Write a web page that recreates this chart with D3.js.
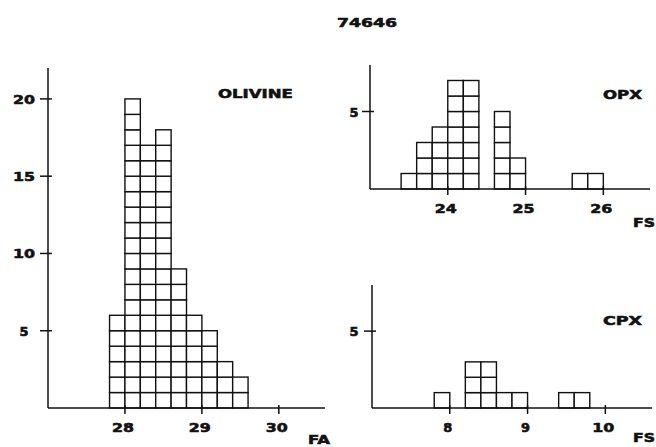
<!DOCTYPE html>
<html><head><meta charset="utf-8">
<script src="https://cdn.jsdelivr.net/npm/d3@7"></script>
<style>body{margin:0;background:#fff}svg{display:block}</style>
</head><body>
<svg id="c" width="656" height="447"></svg>
<script>
const title = "74646";
// Olivine (Fa), bin width 0.2
const olivineBinStarts = [27.8, 28.0, 28.2, 28.4, 28.6, 28.8, 29.0, 29.2, 29.4];
const olivineCounts    = [6, 20, 17, 18, 9, 6, 5, 3, 2];
const olivineXTicks = [28, 29, 30];
const olivineYTicks = [5, 10, 15, 20];
// OPX (Fs)
const opxBinStarts = [23.4, 23.6, 23.8, 24.0, 24.2, 24.6, 24.8, 25.6, 25.8];
const opxCounts    = [1, 3, 4, 7, 7, 5, 2, 1, 1];
const opxXTicks = [24, 25, 26];
const opxYTicks = [5];
// CPX (Fs)
const cpxBinStarts = [7.8, 8.2, 8.4, 8.6, 8.8, 9.4, 9.6];
const cpxCounts    = [1, 3, 3, 1, 1, 1, 1];
const cpxXTicks = [8, 9, 10];
const cpxYTicks = [5];
const binWidth = 0.2;

const svg = d3.select("#c");
const FONT = "DejaVu Sans";
const CHARW = 11;

function label(g, txt, x, y, anchor, cw) {
  const w = (cw || (txt.length === 1 ? 9 : CHARW)) * txt.length;
  g.append("text").attr("x", x).attr("y", y)
    .attr("text-anchor", anchor || "middle")
    .attr("font-family", FONT).attr("font-weight", "bold").attr("font-size", 13)
    .attr("textLength", w).attr("lengthAdjust", "spacingAndGlyphs")
    .attr("fill", "#111").attr("stroke", "#111").attr("stroke-width", 0.6)
    .text(txt);
}

function panel(cfg) {
  const g = svg.append("g");
  const x = d3.scaleLinear().domain(cfg.xDomain).range(cfg.xRange);
  const y = d3.scaleLinear().domain(cfg.yDomain).range(cfg.yRange);
  const boxes = [];
  cfg.starts.forEach((s, i) => {
    for (let k = 0; k < cfg.counts[i]; k++) boxes.push({s, k});
  });
  g.selectAll("rect.box").data(boxes).join("rect").attr("class", "box")
    .attr("x", d => x(d.s)).attr("width", d => x(d.s + binWidth) - x(d.s))
    .attr("y", d => y(d.k + 1)).attr("height", d => y(d.k) - y(d.k + 1))
    .attr("fill", "#fff").attr("stroke", "#111").attr("stroke-width", 1.4);
  const x0 = cfg.xRange[0], y0 = cfg.yRange[0];
  g.append("line").attr("x1", x0).attr("x2", cfg.xRange[1]).attr("y1", y0).attr("y2", y0)
    .attr("stroke", "#111").attr("stroke-width", 1.5);
  g.append("line").attr("x1", x0).attr("x2", x0).attr("y1", y0).attr("y2", cfg.yRange[1])
    .attr("stroke", "#111").attr("stroke-width", 1.5);
  cfg.xTicks.forEach(t => {
    g.append("line").attr("x1", x(t)).attr("x2", x(t)).attr("y1", y0 - 3).attr("y2", y0 + 6)
      .attr("stroke", "#111").attr("stroke-width", 1.5);
    label(g, String(t), x(t) - 2, y0 + 24, "middle");
  });
  cfg.yTicks.forEach(t => {
    g.append("line").attr("x1", x0 - 8).attr("x2", x0 + 4).attr("y1", y(t)).attr("y2", y(t))
      .attr("stroke", "#111").attr("stroke-width", 1.5);
    label(g, String(t), x0 - cfg.yLabelOffset, y(t) + 5, "middle");
  });
  label(g, cfg.axisName, cfg.axisNamePos[0], cfg.axisNamePos[1], "start", 11);
  label(g, cfg.name, cfg.namePos[0], cfg.namePos[1], "start", cfg.nameCW);
}

label(svg, title, 367, 27, "middle", 12);

panel({
  starts: olivineBinStarts, counts: olivineCounts,
  xDomain: [27, 30.6], xRange: [48, 325],
  yDomain: [0, 22], yRange: [408, 68],
  xTicks: olivineXTicks, yTicks: olivineYTicks, yLabelOffset: 24,
  axisName: "FA", axisNamePos: [308, 444],
  name: "OLIVINE", namePos: [218, 98], nameCW: 10.7
});
panel({
  starts: opxBinStarts, counts: opxCounts,
  xDomain: [23, 26.6], xRange: [370, 650],
  yDomain: [0, 8], yRange: [189, 65],
  xTicks: opxXTicks, yTicks: opxYTicks, yLabelOffset: 16,
  axisName: "FS", axisNamePos: [633, 227],
  name: "OPX", namePos: [603, 99], nameCW: 13
});
panel({
  starts: cpxBinStarts, counts: cpxCounts,
  xDomain: [7, 10.6], xRange: [372, 652],
  yDomain: [0, 8], yRange: [408, 285],
  xTicks: cpxXTicks, yTicks: cpxYTicks, yLabelOffset: 18,
  axisName: "FS", axisNamePos: [633, 442],
  name: "CPX", namePos: [603, 325], nameCW: 13
});
</script>
</body></html>
